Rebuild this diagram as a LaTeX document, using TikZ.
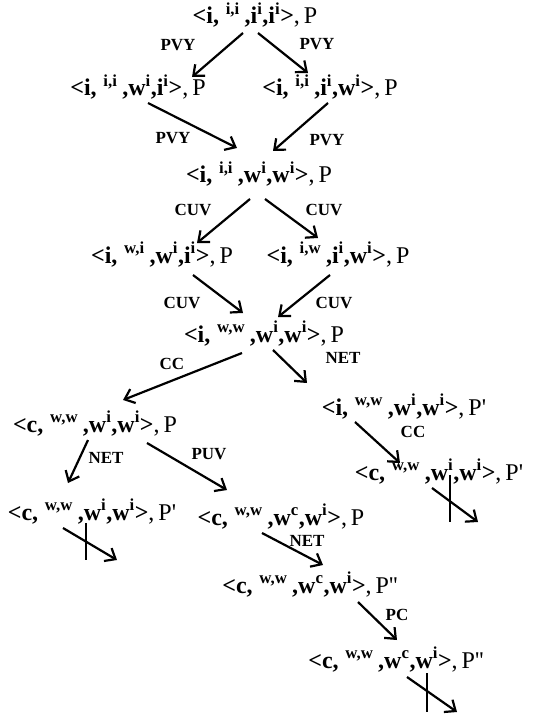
\documentclass[tikz,border=0pt]{standalone}
\usepackage{fontspec}
\setmainfont{Liberation Serif}
\usetikzlibrary{arrows.meta}
\newcommand{\pr}{\textquotesingle}
\newcommand{\tup}[7]{\textbf{<#1,}\hspace{0.28em}\textsuperscript{\textbf{#2}}\hspace{0.2em}\textbf{,#3\textsuperscript{#4},#5\textsuperscript{#6}>},\,#7}
\begin{document}
\begin{tikzpicture}[x=1pt,y=-1pt,
  st/.style={anchor=base,inner sep=0pt,font=\fontsize{24}{27}\selectfont},
  lb/.style={inner sep=0pt,font=\fontsize{17}{19}\selectfont\bfseries},
  arr/.style={line width=2.2pt,-{Straight Barb[length=9pt,width=15pt,line width=2.2pt]}},
  bar/.style={line width=2.2pt}]
\useasboundingbox (0,0) rectangle (548,719);
% states
\node[st] (n1)  at (255,24)  {\tup{i}{i,i}{i}{i}{i}{i}{P}};
\node[st] (n2l) at (138,96)  {\tup{i}{i,i}{w}{i}{i}{i}{P}};
\node[st] (n2r) at (330,96)  {\tup{i}{i,i}{i}{i}{w}{i}{P}};
\node[st] (n3)  at (259,183) {\tup{i}{i,i}{w}{i}{w}{i}{P}};
\node[st] (n4l) at (162,263) {\tup{i}{w,i}{w}{i}{i}{i}{P}};
\node[st] (n4r) at (338,263) {\tup{i}{i,w}{i}{i}{w}{i}{P}};
\node[st] (n5)  at (264,342) {\tup{i}{w,w}{w}{i}{w}{i}{P}};
\node[st] (n6l) at (95,432)  {\tup{c}{w,w}{w}{i}{w}{i}{P}};
\node[st] (n6r) at (404,415) {\tup{i}{w,w}{w}{i}{w}{i}{P\pr}};
\node[st] (n7r) at (439,480) {\tup{c}{w,w}{w}{i}{w}{i}{P\pr}};
\node[st] (n8l) at (92,520)  {\tup{c}{w,w}{w}{i}{w}{i}{P\pr}};
\node[st] (n8m) at (281,525) {\tup{c}{w,w}{w}{c}{w}{i}{P}};
\node[st] (n9)  at (310,593) {\tup{c}{w,w}{w}{c}{w}{i}{P\pr\pr}};
\node[st] (n10) at (396,668) {\tup{c}{w,w}{w}{c}{w}{i}{P\pr\pr}};
% labels
\node[lb] (l1)  at (178,45)  {PVY};
\node[lb] (l2)  at (317,44)  {PVY};
\node[lb] (l3)  at (173,138) {PVY};
\node[lb] (l4)  at (327,140) {PVY};
\node[lb] (l5)  at (193,210) {CUV};
\node[lb] (l6)  at (324,210) {CUV};
\node[lb] (l7)  at (182,303) {CUV};
\node[lb] (l8)  at (334,303) {CUV};
\node[lb] (l9)  at (172,364) {CC};
\node[lb] (l10) at (343,358) {NET};
\node[lb] (l11) at (413,432) {CC};
\node[lb] (l12) at (106,458) {NET};
\node[lb] (l13) at (209,454) {PUV};
\node[lb] (l14) at (307,541) {NET};
\node[lb] (l15) at (397,615) {PC};
% connectors
\draw[arr] ([shift={(-12,9)}]n1.base)  -- ([shift={(54,-19)}]n2l.base);
\draw[arr] ([shift={(3,9)}]n1.base)    -- ([shift={(-22,-23)}]n2r.base);
\draw[arr] ([shift={(10,7)}]n2l.base)  -- ([shift={(-22,-35)}]n3.base);
\draw[arr] ([shift={(-2,7)}]n2r.base)  -- ([shift={(14,-32)}]n3.base);
\draw[arr] ([shift={(-9,16)}]n3.base)  -- ([shift={(35,-20)}]n4l.base);
\draw[arr] ([shift={(6,16)}]n3.base)   -- ([shift={(-20,-25)}]n4r.base);
\draw[arr] ([shift={(31,12)}]n4l.base) -- ([shift={(-21,-29)}]n5.base);
\draw[arr] ([shift={(-8,12)}]n4r.base) -- ([shift={(14,-25)}]n5.base);
\draw[arr] ([shift={(-22,11)}]n5.base) -- ([shift={(28,-32)}]n6l.base);
\draw[arr] ([shift={(9,8)}]n5.base)    -- ([shift={(-97,-32)}]n6r.base);
\draw[arr] ([shift={(-49,7)}]n6r.base) -- ([shift={(-39,-17)}]n7r.base);
\draw[arr] ([shift={(-7,8)}]n6l.base)  -- ([shift={(-24,-37)}]n8l.base);
\draw[arr] ([shift={(52,11)}]n6l.base) -- ([shift={(-54,-35)}]n8m.base);
\draw[arr] ([shift={(-19,8)}]n8m.base) -- ([shift={(13,-28)}]n9.base);
\draw[arr] ([shift={(48,9)}]n9.base)   -- ([shift={(1,-28)}]n10.base);
% blocked transitions
\coordinate (e1) at ([shift={(39,42)}]n7r.base);
\coordinate (e2) at ([shift={(25,40)}]n8l.base);
\coordinate (e3) at ([shift={(61,44)}]n10.base);
\draw[arr] ([shift={(-7,8)}]n7r.base)  -- (e1);
\draw[bar] ([shift={(11,-5)}]n7r.base) -- ([shift={(11,42)}]n7r.base);
\draw[arr] ([shift={(-29,8)}]n8l.base) -- (e2);
\draw[bar] ([shift={(-6,3)}]n8l.base)  -- ([shift={(-6,40)}]n8l.base);
\draw[arr] ([shift={(11,9)}]n10.base)  -- (e3);
\draw[bar] ([shift={(31,5)}]n10.base)  -- ([shift={(31,44)}]n10.base);
\end{tikzpicture}
\end{document}
